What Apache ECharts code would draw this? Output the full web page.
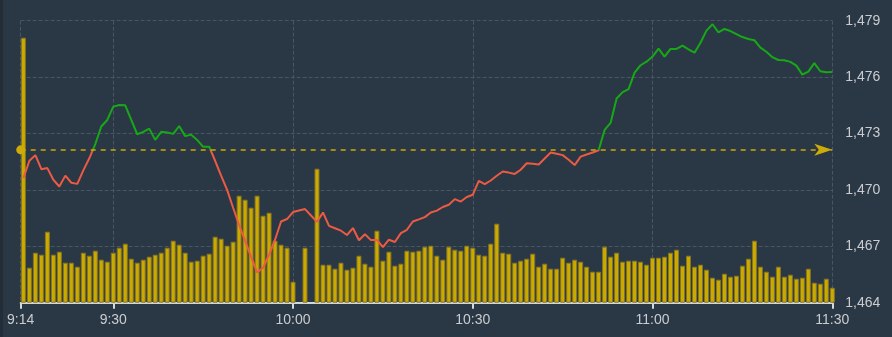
<!DOCTYPE html>
<html>
<head>
<meta charset="utf-8">
<script src="https://cdn.jsdelivr.net/npm/echarts@6/dist/echarts.min.js"></script>
<style>
html,body{margin:0;padding:0;background:#2a3744;}
#chart{width:892px;height:337px;}
</style>
</head>
<body>
<div id="chart"></div>
<script>
// Session starts 9:15, one value per minute up to 11:30
const firstMinute = 9 * 60 + 15;
const prevClose = 1472.13;
const tickLabels = ['9:14', '9:30', '10:00', '10:30', '11:00', '11:30'];

const prices = [
  1470.63, 1471.55, 1471.85, 1471.10, 1471.16, 1470.54, 1470.18, 1470.76, 1470.38, 1470.32,
  1471.04, 1471.68, 1472.44, 1473.37, 1473.72, 1474.43, 1474.52, 1474.50, 1473.72, 1472.96,
  1473.09, 1473.26, 1472.66, 1473.09, 1473.05, 1472.98, 1473.40, 1472.86, 1472.94, 1472.66,
  1472.29, 1472.30, 1471.55, 1470.76, 1470.00, 1469.05, 1468.14, 1467.29, 1466.44, 1465.61,
  1465.86, 1466.55, 1467.35, 1468.32, 1468.45, 1468.82, 1468.90, 1468.98, 1468.64, 1468.30,
  1468.80, 1468.09, 1467.96, 1467.83, 1467.60, 1467.97, 1467.32, 1467.64, 1467.33, 1467.34,
  1466.96, 1467.35, 1467.23, 1467.70, 1467.88, 1468.32, 1468.43, 1468.55, 1468.80, 1468.90,
  1469.09, 1469.21, 1469.51, 1469.38, 1469.62, 1469.74, 1470.48, 1470.31, 1470.50, 1470.75,
  1470.98, 1470.92, 1470.85, 1471.07, 1471.42, 1471.39, 1471.35, 1471.67, 1471.99, 1471.92,
  1471.85, 1471.60, 1471.32, 1471.77, 1471.88, 1471.99, 1472.11, 1473.19, 1473.56, 1474.86,
  1475.20, 1475.36, 1476.24, 1476.63, 1476.82, 1477.09, 1477.51, 1477.09, 1477.50, 1477.50,
  1477.67, 1477.48, 1477.30, 1477.83, 1478.47, 1478.81, 1478.38, 1478.56, 1478.45, 1478.29,
  1478.13, 1478.03, 1477.96, 1477.57, 1477.35, 1477.06, 1476.91, 1476.90, 1476.81, 1476.61,
  1476.13, 1476.29, 1476.74, 1476.31, 1476.26, 1476.27
];

// relative traded volume per minute (null = no trade)
const volumes = [
  265, 35, 50, 48, 71, 48, 51, 40, 40, 36,
  50, 47, 52, 43, 41, 50, 55, 59, 44, 40,
  43, 46, 48, 50, 55, 62, 58, 50, 41, 42,
  47, 49, 66, 64, 57, 61, 107, 103, 95, 107,
  87, 90, 62, 58, 55, 21, null, 55, null, 134,
  38, 38, 34, 40, 33, 35, 47, 39, 36, 72,
  42, 51, 37, 39, 52, 51, 52, 56, 57, 47,
  43, 56, 53, 52, 57, 55, 48, 47, 59, 79,
  50, 49, 40, 42, 44, 49, 36, 39, 34, 34,
  45, 40, 43, 41, 36, 31, 31, 56, 46, 50,
  41, 42, 42, 41, 38, 45, 45, 46, 50, 53,
  37, 47, 36, 38, 33, 25, 23, 29, 26, 27,
  37, 44, 62, 36, 31, 26, 36, 26, 28, 24,
  25, 34, 20, 19, 24, 15
];

const minutes = prices.map((_, i) => firstMinute + i);
const priceData = prices.map((p, i) => [minutes[i], p]);
const volumeData = volumes.map((v, i) => [minutes[i], v]);

const xMin = firstMinute - 0.45;
const xMax = minutes[minutes.length - 1];
function parseHM(s) { const a = s.split(':'); return (+a[0]) * 60 + (+a[1]); }
const tickValues = tickLabels.map(s => Math.max(parseHM(s), xMin));
function fmtHM(v) {
  const m = Math.floor(v + 1e-6);
  const h = Math.floor(m / 60), mm = m % 60;
  return h + ':' + (mm < 10 ? '0' : '') + mm;
}

const chart = echarts.init(document.getElementById('chart'), null, {renderer: 'canvas'});
const textColor = '#c9cdd1';
const gridColor = '#4a5561';
const markColor = '#cdab08';

chart.setOption({
  animation: false,
  backgroundColor: '#2a3744',
  textStyle: {fontFamily: 'Liberation Sans, Arial, sans-serif'},
  graphic: [{
    type: 'rect', left: 0, top: 0, shape: {width: 3, height: 337},
    style: {fill: '#222d38'}, silent: true, z: -1
  }],
  grid: {left: 20.7, right: 59.7, top: 20.7, bottom: 34.3},
  xAxis: {
    type: 'value',
    min: xMin,
    max: xMax,
    axisLine: {show: true, lineStyle: {color: '#d4d7da', width: 2}},
    axisTick: {show: true, customValues: tickValues, length: 6, lineStyle: {color: '#d4d7da', width: 2}},
    axisLabel: {
      customValues: tickValues, color: textColor, fontSize: 14, margin: 10,
      formatter: v => fmtHM(v)
    },
    splitLine: {show: true, lineStyle: {color: gridColor, type: 'dashed', width: 1}}
  },
  yAxis: [{
    type: 'value',
    position: 'right',
    min: 1464,
    max: 1479,
    interval: 3,
    axisLine: {show: false},
    axisTick: {show: false},
    axisLabel: {
      color: textColor, fontSize: 14, margin: 13,
      formatter: v => v.toLocaleString('en-US')
    },
    splitLine: {show: true, lineStyle: {color: gridColor, type: 'dashed', width: 1}}
  }, {
    type: 'value',
    min: 0,
    max: 282,
    show: false,
    splitLine: {show: false}
  }],
  visualMap: {
    type: 'piecewise',
    show: false,
    seriesIndex: 1,
    dimension: 1,
    pieces: [
      {gt: 1400, lte: prevClose, color: '#ec5a44'},
      {gt: prevClose, lte: 1600, color: '#16a816'}
    ],
    outOfRange: {color: '#16a816'}
  },
  series: [{
    type: 'bar',
    yAxisIndex: 1,
    data: volumeData,
    barWidth: 5,
    itemStyle: {color: '#cbaa00', borderColor: '#857424', borderWidth: 1},
    silent: true,
    z: 1
  }, {
    type: 'line',
    yAxisIndex: 0,
    data: priceData,
    showSymbol: false,
    symbol: 'none',
    lineStyle: {width: 2},
    silent: true,
    z: 3,
    markLine: {
      silent: true,
      symbol: ['circle', 'arrow'],
      symbolSize: [9, 18],
      label: {show: false},
      itemStyle: {color: markColor},
      lineStyle: {color: markColor, type: [5, 5], width: 1.5},
      emphasis: {disabled: true},
      data: [{yAxis: prevClose}]
    }
  }]
});
</script>
</body>
</html>
